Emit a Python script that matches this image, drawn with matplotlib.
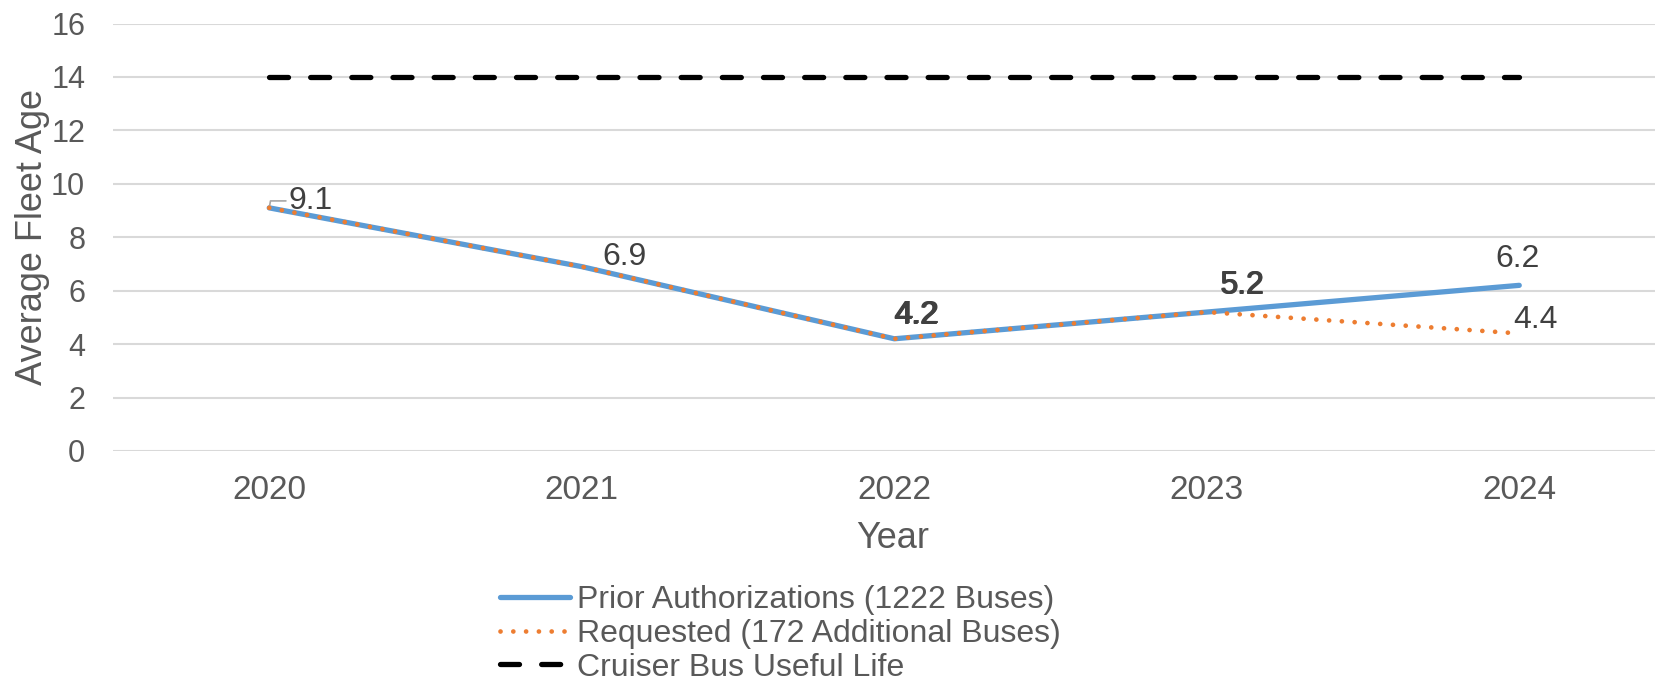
import matplotlib
matplotlib.use("Agg")
import matplotlib.pyplot as plt

plt.rcParams['font.family'] = ['Liberation Sans', 'DejaVu Sans']

years = ['2020', '2021', '2022', '2023', '2024']
prior = [9.1, 6.9, 4.2, 5.2, 6.2]
requested = [9.1, 6.9, 4.2, 5.2, 4.4]
useful_life = [14, 14, 14, 14, 14]

labels = ['Prior Authorizations (1222 Buses)',
          'Requested (172 Additional Buses)',
          'Cruiser Bus Useful Life']

W, H = 1655, 680
fig = plt.figure(figsize=(W / 100, H / 100), dpi=100)
ax = fig.add_axes([113 / W, 1 - 451 / H, (W - 113) / W, 427.5 / H])

x = list(range(len(years)))
span = (W - 113) / 312.5

ax.plot(x, prior, color='#5B9BD5', lw=3.8, solid_capstyle='round', label=labels[0], zorder=3)
ax.plot(x, requested, color='#ED7D31', lw=3.4, dashes=(0.01, 2.7),
        dash_capstyle='round', label=labels[1], zorder=4)
ax.plot(x, useful_life, color='black', lw=3.8, dashes=(3.6, 4.2),
        dash_capstyle='round', label=labels[2], zorder=3)

ax.set_xlim(-0.5, -0.5 + span)
ax.set_ylim(0, 16)
ax.set_yticks(range(0, 17, 2))
ax.set_xticks(x)
ax.set_xticklabels(years)
ax.grid(axis='y', color='#D9D9D9', lw=1.5)
ax.set_axisbelow(True)
for s in ax.spines.values():
    s.set_visible(False)
ax.tick_params(length=0, labelcolor='#595959')
ax.tick_params(axis='x', labelsize=24, pad=17)
ax.tick_params(axis='y', labelsize=22, pad=20)

ax.set_xlabel('Year', fontsize=26, color='#595959')
ax.set_ylabel('Average Fleet Age', fontsize=26, color='#595959')
ax.xaxis.set_label_coords((893 - 113) / (W - 113), -(539 - 451) / 427.5)
ax.yaxis.set_label_coords(-(113 - 32) / (W - 113), 0.5)
ax.xaxis.label.set_va('center')
ax.yaxis.label.set_va('center')

lab = dict(fontsize=23, color='#404040')
# 2020 label with a small leader line
ax.annotate(f'{prior[0]}', (0, prior[0]), xytext=(14, 5), textcoords='offset points',
            va='center', ha='left', **lab,
            arrowprops=dict(arrowstyle='-', color='#A6A6A6', lw=1.2,
                            connectionstyle='angle,angleA=0,angleB=80,rad=0',
                            shrinkA=0, shrinkB=0, relpos=(0, 0.5)))
ax.annotate(f'{prior[1]}', (1, prior[1]), xytext=(31, 7), textcoords='offset points',
            ha='center', va='center', **lab)
# two series share the 2022 and 2023 values, labels overlap
for dx in (0, 0.8):
    ax.annotate(f'{prior[2]}', (2, prior[2]), xytext=(15 + dx, 16.5), textcoords='offset points',
                ha='center', va='center', **lab)
    ax.annotate(f'{requested[2]}', (2, requested[2]), xytext=(15.6 + dx, 16.9), textcoords='offset points',
                ha='center', va='center', **lab)
    ax.annotate(f'{prior[3]}', (3, prior[3]), xytext=(25 + dx, 19), textcoords='offset points',
                ha='center', va='center', **lab)
    ax.annotate(f'{requested[3]}', (3, requested[3]), xytext=(25.5 + dx, 19.3), textcoords='offset points',
                ha='center', va='center', **lab)
ax.annotate(f'{prior[4]}', (4, prior[4]), xytext=(-1, 19), textcoords='offset points',
            ha='center', va='center', **lab)
ax.annotate(f'{requested[4]}', (4, requested[4]), xytext=(12, 10), textcoords='offset points',
            ha='center', va='center', **lab)

leg = fig.legend(loc='upper left', bbox_to_anchor=(500 / W, 1 - 585 / H), frameon=False,
                 fontsize=23, handlelength=2.2, handletextpad=0.2, labelspacing=0.12,
                 borderpad=0, borderaxespad=0)
for t in leg.get_texts():
    t.set_color('#595959')

fig.savefig('out.png', dpi=100)
